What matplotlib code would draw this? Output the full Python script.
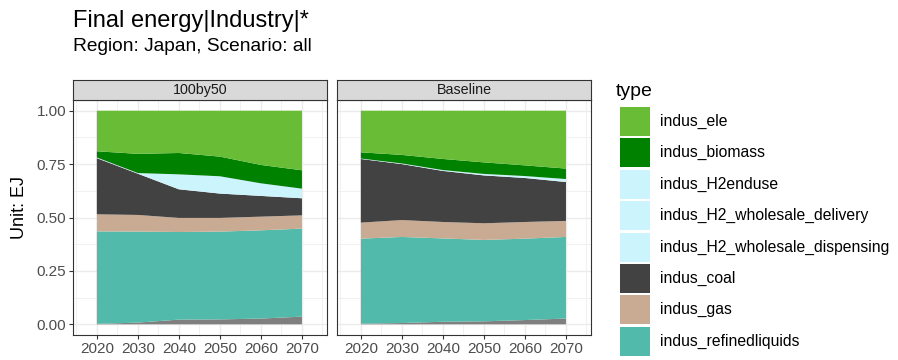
import matplotlib
matplotlib.use("Agg")
import matplotlib.pyplot as plt
from matplotlib.patches import Rectangle
import numpy as np

plt.rcParams['font.family'] = ['Liberation Sans', 'DejaVu Sans']

years = [2020, 2030, 2040, 2050, 2060, 2070]
scenarios = ["100by50", "Baseline"]

# legend order (top of stack first)
types = ["indus_ele", "indus_biomass", "indus_H2enduse", "indus_H2_wholesale_delivery",
         "indus_H2_wholesale_dispensing", "indus_coal", "indus_gas", "indus_refinedliquids"]
type_colors = ["#68BC36", "#008200", "#CCF4FC", "#CCF4FC", "#CCF4FC",
               "#424242", "#C9AB93", "#52BAAA"]
other_color = "#7F7F7F"

# shares by scenario (bottom layer "other" first, not in legend)
other = {
    "100by50":  [0.002, 0.008, 0.022, 0.023, 0.027, 0.036],
    "Baseline": [0.003, 0.006, 0.012, 0.014, 0.020, 0.027],
}
refinedliquids = {
    "100by50":  [0.433, 0.426, 0.410, 0.411, 0.413, 0.412],
    "Baseline": [0.398, 0.403, 0.390, 0.381, 0.381, 0.382],
}
gas = {
    "100by50":  [0.080, 0.078, 0.066, 0.064, 0.064, 0.062],
    "Baseline": [0.075, 0.079, 0.077, 0.078, 0.078, 0.075],
}
coal = {
    "100by50":  [0.263, 0.193, 0.134, 0.114, 0.097, 0.080],
    "Baseline": [0.298, 0.262, 0.239, 0.224, 0.206, 0.182],
}
h2enduse = {
    "100by50":  [0.003, 0.003, 0.070, 0.081, 0.059, 0.045],
    "Baseline": [0.002, 0.003, 0.004, 0.007, 0.009, 0.014],
}
h2_delivery = {
    "100by50":  [0.0, 0.0, 0.0, 0.0, 0.0, 0.0],
    "Baseline": [0.0, 0.0, 0.0, 0.0, 0.0, 0.0],
}
h2_dispensing = {
    "100by50":  [0.0, 0.0, 0.0, 0.0, 0.0, 0.0],
    "Baseline": [0.0, 0.0, 0.0, 0.0, 0.0, 0.0],
}
biomass = {
    "100by50":  [0.029, 0.090, 0.100, 0.092, 0.086, 0.086],
    "Baseline": [0.029, 0.040, 0.052, 0.054, 0.050, 0.049],
}
ele = {
    "100by50":  [0.190, 0.202, 0.198, 0.215, 0.254, 0.279],
    "Baseline": [0.195, 0.207, 0.226, 0.242, 0.256, 0.271],
}

W, H = 898, 360
fig = plt.figure(figsize=(W / 100, H / 100), dpi=100)
fig.patch.set_facecolor("white")

def fx(px):
    return px / W

def fy(py):
    return 1 - py / H

panel_lefts = [73, 337]
panel_w = 254
panel_top, panel_bottom = 100, 335
strip_top = 80

yticks = [0, 0.25, 0.5, 0.75, 1.0]
ytick_labels = ["0.00", "0.25", "0.50", "0.75", "1.00"]

for i, sc in enumerate(scenarios):
    left = panel_lefts[i]
    ax = fig.add_axes([fx(left), fy(panel_bottom), fx(panel_w), (panel_bottom - panel_top) / H])
    layers = [other[sc], refinedliquids[sc], gas[sc], coal[sc], h2_dispensing[sc],
              h2_delivery[sc], h2enduse[sc], biomass[sc], ele[sc]]
    cols = [other_color] + type_colors[::-1]
    ax.stackplot(years, *[np.array(l) for l in layers], colors=cols, linewidth=0, zorder=2)
    ax.set_xlim(2014.2, 2076.1)
    ax.set_ylim(-0.05, 1.05)
    ax.set_xticks(years)
    ax.set_xticks([2015, 2025, 2035, 2045, 2055, 2065, 2075], minor=True)
    ax.set_yticks(yticks)
    ax.set_yticks([0.125, 0.375, 0.625, 0.875], minor=True)
    ax.grid(which="major", color="#EBEBEB", linewidth=1.0, zorder=0)
    ax.grid(which="minor", color="#EBEBEB", linewidth=0.5, zorder=0)
    ax.set_axisbelow(True)
    for s in ax.spines.values():
        s.set_color("#333333")
        s.set_linewidth(0.8)
    ax.tick_params(which="minor", length=0)
    ax.tick_params(which="major", length=3, color="#333333", width=0.8,
                   labelcolor="#4D4D4D", labelsize=11, pad=2)
    ax.set_xticklabels([str(y) for y in years])
    if i == 0:
        ax.set_yticklabels(ytick_labels)
    else:
        ax.set_yticklabels([])
        ax.tick_params(axis="y", length=0)

    # facet strip
    sax = fig.add_axes([fx(left), fy(panel_top), fx(panel_w), (panel_top - strip_top) / H])
    sax.set_facecolor("#D9D9D9")
    sax.set_xticks([])
    sax.set_yticks([])
    for s in sax.spines.values():
        s.set_color("#333333")
        s.set_linewidth(0.8)
    sax.text(0.5, 0.5, sc, ha="center", va="center", fontsize=10.3, color="#1A1A1A",
             transform=sax.transAxes)

fig.text(fx(73), fy(27), "Final energy|Industry|*", fontsize=17, color="black",
         ha="left", va="baseline")
fig.text(fx(73), fy(51), "Region: Japan, Scenario: all", fontsize=13.8, color="black",
         ha="left", va="baseline")
fig.text(fx(19), fy(207.5), "Unit: EJ", fontsize=13, rotation=90, ha="center", va="center")

# legend
fig.text(fx(616), fy(91), "type", fontsize=14, ha="left", va="center")
key_top0 = 107
key_step = 31.4
for k, (name, col) in enumerate(zip(types, type_colors)):
    top = key_top0 + k * key_step
    fig.patches.append(Rectangle((fx(620), fy(top + 29)), fx(30), 29 / H, facecolor=col,
                                 edgecolor="none", transform=fig.transFigure))
    fig.text(fx(660), fy(top + 14.5), name, fontsize=11.3, ha="left", va="center",
             color="black")

fig.savefig("out.png", dpi=100, facecolor="white")
